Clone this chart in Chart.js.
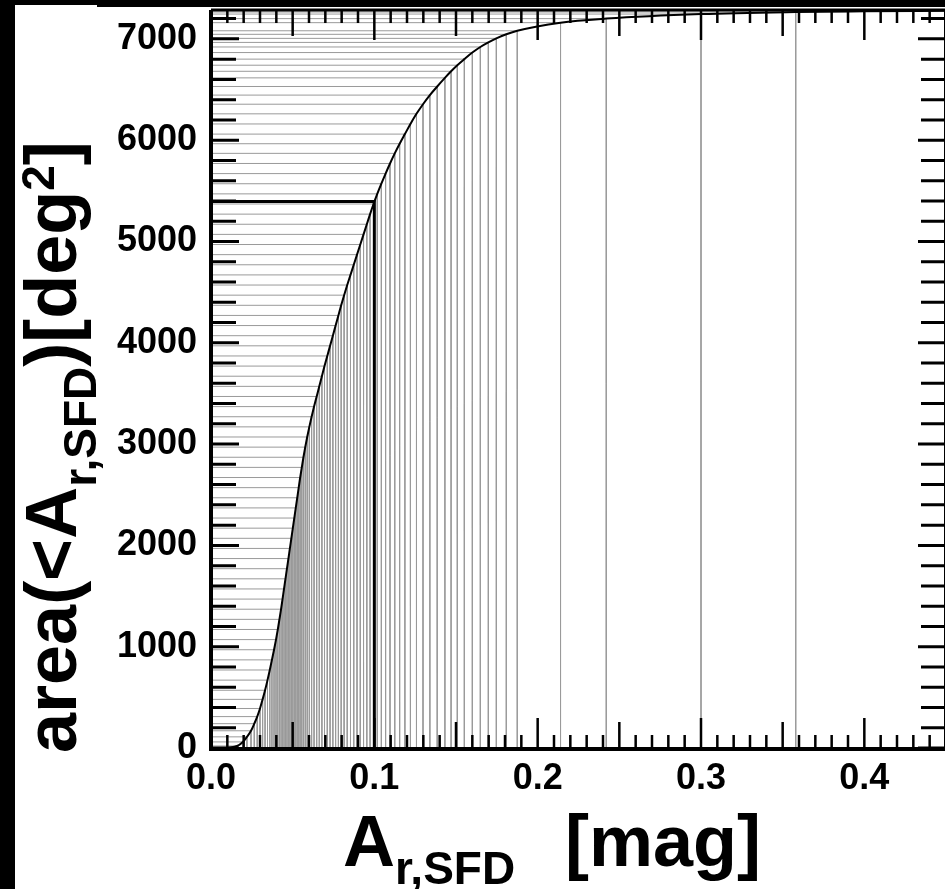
<!DOCTYPE html>
<html>
<head>
<meta charset="utf-8">
<script src="https://cdn.jsdelivr.net/npm/chart.js@4.4.1/dist/chart.umd.min.js"></script>
<style>
html, body { margin: 0; padding: 0; background: #fff; overflow: hidden; }
#wrap { position: relative; width: 960px; height: 889px; }
</style>
</head>
<body>
<div id="wrap"><canvas id="areaChart" width="960" height="889"></canvas></div>
<script>
// A_r,SFD thresholds [mag] and cumulative area below them [deg^2]
var extA = [
  0.0100, 0.0160, 0.0195, 0.0220, 0.0245, 0.0265, 0.0283, 0.0300, 0.0316, 0.0331,
  0.0346, 0.0360, 0.0373, 0.0386, 0.0398, 0.0409, 0.0419, 0.0429, 0.0438, 0.0447,
  0.0456, 0.0465, 0.0474, 0.0483, 0.0492, 0.0501, 0.0510, 0.0519, 0.0528, 0.0537,
  0.0546, 0.0556, 0.0566, 0.0577, 0.0589, 0.0602, 0.0616, 0.0631, 0.0647, 0.0663,
  0.0679, 0.0695, 0.0712, 0.0729, 0.0746, 0.0763, 0.0780, 0.0797, 0.0815, 0.0834,
  0.0854, 0.0874, 0.0894, 0.0914, 0.0934, 0.0954, 0.0974, 0.0995, 0.1018, 0.1043,
  0.1069, 0.1096, 0.1125, 0.1155, 0.1187, 0.1221, 0.1258, 0.1298, 0.1340, 0.1385,
  0.1432, 0.1470, 0.1508, 0.1551, 0.1600, 0.1649, 0.1698, 0.1747, 0.1808, 0.1875,
  0.2140, 0.2420, 0.3000, 0.3580
];
var areaCum = [
  0, 20, 60, 110, 170, 240, 310, 390, 480, 570,
  670, 770, 870, 970, 1070, 1170, 1270, 1370, 1470, 1570,
  1670, 1770, 1870, 1970, 2070, 2170, 2270, 2370, 2470, 2570,
  2670, 2770, 2870, 2970, 3070, 3170, 3270, 3370, 3470, 3570,
  3670, 3770, 3870, 3970, 4070, 4170, 4270, 4370, 4470, 4570,
  4670, 4770, 4870, 4970, 5070, 5170, 5270, 5370, 5470, 5570,
  5670, 5770, 5870, 5965, 6060, 6160, 6260, 6355, 6445, 6530,
  6615, 6680, 6740, 6800, 6865, 6920, 6965, 7005, 7045, 7080,
  7160, 7200, 7245, 7265
];
// flat end of the curve, under the top frame
var tailA = [0.4000, 0.4500];
var tailArea = [7272, 7278];

// marked threshold
var markA = 0.1;
var markArea = 5395;

var xTicks = [0.0, 0.1, 0.2, 0.3, 0.4];
var yTicks = [0, 1000, 2000, 3000, 4000, 5000, 6000, 7000];

// curve points
var curvePts = [];
for (var i = 0; i < extA.length; i++) curvePts.push({x: extA[i], y: areaCum[i]});
for (var j = 0; j < tailA.length; j++) curvePts.push({x: tailA[j], y: tailArea[j]});

// drop lines: y axis -> curve -> x axis, broken by a null
var dropPts = [];
for (var k = 0; k < extA.length; k++) {
  dropPts.push({x: 0, y: areaCum[k]});
  dropPts.push({x: extA[k], y: areaCum[k]});
  dropPts.push({x: extA[k], y: 0});
  dropPts.push({x: extA[k], y: null});
}

var markPts = [{x: 0, y: markArea}, {x: markA, y: markArea}, {x: markA, y: 0}];

var tickFont = {family: '"Liberation Sans", Arial, sans-serif', size: 36, weight: 'bold'};

// background, frame, inward ticks and axis titles
var framePlugin = {
  id: 'frame',
  beforeDraw: function(chart) {
    var ctx = chart.ctx;
    ctx.save();
    ctx.fillStyle = '#fff';
    ctx.fillRect(0, 0, chart.width, chart.height);
    ctx.fillStyle = '#000';
    ctx.fillRect(0, 0, 15, chart.height);
    ctx.fillRect(0, 0, chart.width, 5);
    ctx.fillRect(97, 0, chart.width, 7);
    ctx.restore();
  },
  afterDraw: function(chart) {
    var ctx = chart.ctx;
    var a = chart.chartArea;
    var xs = chart.scales.x, ys = chart.scales.y;
    ctx.save();
    ctx.strokeStyle = '#000';
    ctx.fillStyle = '#000';

    // x ticks, bottom and top
    ctx.lineWidth = 2.5;
    for (var i = 0; i <= 45; i++) {
      var px = xs.getPixelForValue(i / 100);
      var len = (i % 10 === 0) ? 30 : (i % 5 === 0 ? 26 : 13);
      ctx.beginPath();
      ctx.moveTo(px, a.bottom); ctx.lineTo(px, a.bottom - len);
      ctx.moveTo(px, a.top); ctx.lineTo(px, a.top + len);
      ctx.stroke();
    }
    // y ticks, left and right
    ctx.lineWidth = 3;
    for (var v = 0; v <= 7200; v += 200) {
      var py = ys.getPixelForValue(v);
      var l = (v % 1000 === 0) ? 28 : 25;
      ctx.beginPath();
      ctx.moveTo(a.left, py); ctx.lineTo(a.left + l, py);
      ctx.moveTo(a.right, py); ctx.lineTo(a.right - l, py);
      ctx.stroke();
    }
    // frame
    ctx.lineWidth = 4;
    ctx.beginPath();
    ctx.moveTo(a.left, a.top); ctx.lineTo(a.left, a.bottom + 3);
    ctx.moveTo(a.left - 2, a.bottom + 1); ctx.lineTo(a.right, a.bottom + 1);
    ctx.moveTo(a.right, a.bottom); ctx.lineTo(a.right, a.top);
    ctx.stroke();
    ctx.lineWidth = 3;
    ctx.beginPath();
    ctx.moveTo(a.left, a.top); ctx.lineTo(a.right, a.top);
    ctx.stroke();

    // x title
    var fam = '"Liberation Sans", Arial, sans-serif';
    ctx.textAlign = 'left';
    ctx.textBaseline = 'alphabetic';
    ctx.font = 'bold 72px ' + fam;
    ctx.fillText('A', 343, 866);
    var wA = ctx.measureText('A').width;
    ctx.font = 'bold 46px ' + fam;
    ctx.fillText('r,SFD', 343 + wA, 884);
    ctx.font = 'bold 72px ' + fam;
    ctx.fillText('[mag]', 565, 866);

    // y title, rotated
    ctx.translate(76, 753);
    ctx.rotate(-Math.PI / 2);
    var pieces = [
      ['area(<A', 72, 0],
      ['r,SFD', 46, 20],
      [')[deg', 72, 0],
      ['2', 46, -22],
      [']', 72, 0]
    ];
    var cx = 0;
    for (var p = 0; p < pieces.length; p++) {
      ctx.font = 'bold ' + pieces[p][1] + 'px ' + fam;
      ctx.fillText(pieces[p][0], cx, pieces[p][2]);
      cx += ctx.measureText(pieces[p][0]).width;
    }
    ctx.restore();
  }
};

const config_area_Chart = {
  type: 'scatter',
  data: {
    datasets: [
      {
        label: 'marked',
        data: markPts,
        showLine: true,
        borderColor: '#000',
        borderWidth: 3,
        pointRadius: 0,
        order: 0
      },
      {
        label: 'area(<A)',
        data: curvePts,
        showLine: true,
        borderColor: '#000',
        borderWidth: 2,
        pointRadius: 0,
        cubicInterpolationMode: 'monotone',
        order: 1
      },
      {
        label: 'drops',
        data: dropPts,
        showLine: true,
        spanGaps: false,
        borderColor: '#9a9a9a',
        borderWidth: 1,
        pointRadius: 0,
        order: 2
      }
    ]
  },
  options: {
    responsive: false,
    animation: false,
    devicePixelRatio: 1,
    events: [],
    layout: {padding: {top: 10, right: 14, bottom: 0, left: 0}},
    plugins: {legend: {display: false}, tooltip: {enabled: false}},
    scales: {
      x: {
        type: 'linear',
        position: 'bottom',
        min: 0,
        max: 0.45,
        grid: {display: false, drawTicks: false},
        border: {display: false},
        afterBuildTicks: function(scale) {
          scale.ticks = xTicks.map(function(v) { return {value: v}; });
        },
        afterFit: function(scale) {
          scale.height = 141;
          scale.paddingLeft = 0;
          scale.paddingRight = 0;
        },
        ticks: {
          autoSkip: false,
          maxRotation: 0,
          padding: 9,
          color: '#000',
          font: tickFont,
          callback: function(v) { return Number(v).toFixed(1); }
        }
      },
      y: {
        type: 'linear',
        min: 0,
        max: 7285,
        grid: {display: false, drawTicks: false},
        border: {display: false},
        afterBuildTicks: function(scale) {
          scale.ticks = yTicks.map(function(v) { return {value: v}; });
        },
        afterFit: function(scale) {
          scale.width = 211;
          scale.paddingTop = 0;
          scale.paddingBottom = 0;
        },
        ticks: {
          autoSkip: false,
          padding: 14,
          color: '#000',
          font: tickFont,
          callback: function(v) { return String(v); }
        }
      }
    }
  },
  plugins: [framePlugin]
};

const area_Chart = new Chart(
  document.getElementById('areaChart'),
  config_area_Chart
);
</script>
</body>
</html>
